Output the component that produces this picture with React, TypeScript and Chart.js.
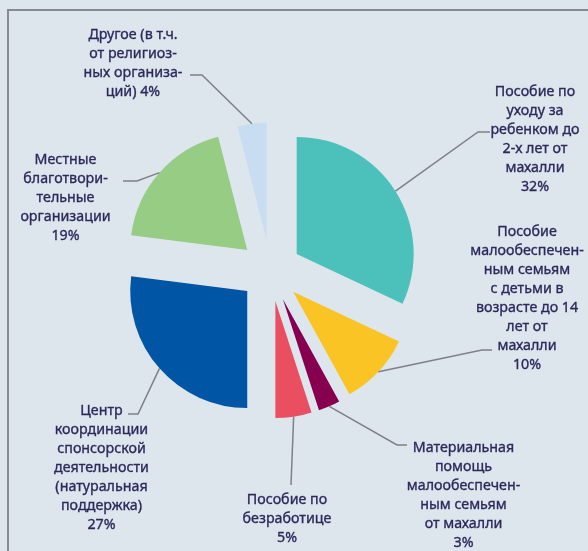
import React, { useEffect, useRef } from 'react';
import { Chart, registerables } from 'chart.js';

Chart.register(...registerables);

// ---- data ----
const categories = [
  'Пособие по уходу за ребенком до 2-х лет от махалли',
  'Пособие малообеспеченным семьям с детьми в возрасте до 14 лет от махалли',
  'Материальная помощь малообеспеченным семьям от махалли',
  'Пособие по безработице',
  'Центр координации спонсорской деятельности (натуральная поддержка)',
  'Местные благотворительные организации',
  'Другое (в т.ч. от религиозных организаций)',
];
const values = [32, 10, 3, 5, 27, 19, 4];
const labelLines = [
  ['Пособие по', 'уходу за', 'ребенком до', '2-х лет от', 'махалли'],
  ['Пособие', 'малообеспечен-', 'ным семьям', 'с детьми в', 'возрасте до 14', 'лет от', 'махалли'],
  ['Материальная', 'помощь', 'малообеспечен-', 'ным семьям', 'от махалли'],
  ['Пособие по', 'безработице'],
  ['Центр', 'координации', 'спонсорской', 'деятельности', '(натуральная', 'поддержка)'],
  ['Местные', 'благотвори-', 'тельные', 'организации'],
  ['Другое (в т.ч.', 'от религиоз-', 'ных организа-', 'ций)'],
];
const pctOnSameLine = [false, false, false, false, false, false, true];

// ---- styles / layout ----
const colors = ['#4cc0bb', '#f9c424', '#86004f', '#e94f61', '#0055a4', '#96cc83', '#c8ddf2'];
const labelLayout = [
  { x: 535, y: 96, elbow: [478, 132], end: [490, 132] },
  { x: 527, y: 236, elbow: [482, 350], end: [492, 350] },
  { x: 463.5, y: 452, elbow: [397, 445], end: [407, 445] },
  { x: 287, y: 504, elbow: null, end: [291, 485] },
  { x: 101.5, y: 415, elbow: [138, 414], end: [128, 414] },
  { x: 65.5, y: 163.5, elbow: [137, 181], end: [123, 181] },
  { x: 133, y: 39, elbow: [202, 75], end: [190, 75] },
];
const GAP = 31;
const LINE_H = 19;
const FONT = '15px "Noto Sans"';
const TEXT_COLOR = '#2b295c';
const BG = '#dee6ed';

const explodePlugin = {
  id: 'explode',
  afterDatasetUpdate(chart: any, args: any) {
    const meta = chart.getDatasetMeta(args.index);
    meta.data.forEach((arc: any) => {
      const mid = (arc.startAngle + arc.endAngle) / 2;
      arc.x += Math.cos(mid) * GAP;
      arc.y += Math.sin(mid) * GAP;
    });
  },
};

const bgPlugin = {
  id: 'bg',
  beforeDraw(chart: any) {
    const ctx = chart.ctx;
    ctx.save();
    ctx.fillStyle = BG;
    ctx.fillRect(0, 0, chart.width, chart.height);
    ctx.fillStyle = '#868b91';
    ctx.fillRect(7, 9, chart.width - 7, 2);
    ctx.fillRect(7, 9, 2, chart.height - 9);
    ctx.restore();
  },
};

const labelPlugin = {
  id: 'labels',
  afterDatasetsDraw(chart: any) {
    const ctx = chart.ctx;
    const meta = chart.getDatasetMeta(0);
    ctx.save();
    meta.data.forEach((arc: any, i: number) => {
      const L = labelLayout[i];
      const mid = (arc.startAngle + arc.endAngle) / 2;
      const px = arc.x + Math.cos(mid) * arc.outerRadius;
      const py = arc.y + Math.sin(mid) * arc.outerRadius;
      ctx.strokeStyle = '#7d8186';
      ctx.lineWidth = 1.5;
      ctx.beginPath();
      ctx.moveTo(px, py);
      if (L.elbow) ctx.lineTo(L.elbow[0], L.elbow[1]);
      ctx.lineTo(L.end[0], L.end[1]);
      ctx.stroke();

      const lines = labelLines[i].slice();
      const pct = values[i] + '%';
      if (pctOnSameLine[i]) lines[lines.length - 1] += ' ' + pct;
      else lines.push(pct);
      ctx.save();
      ctx.translate(L.x, 0);
      ctx.scale(0.95, 1);
      ctx.font = FONT;
      ctx.fillStyle = TEXT_COLOR;
      ctx.strokeStyle = TEXT_COLOR;
      ctx.lineWidth = 0.35;
      ctx.textAlign = 'center';
      ctx.textBaseline = 'alphabetic';
      lines.forEach((t, k) => {
        ctx.fillText(t, 0, L.y + k * LINE_H);
        ctx.strokeText(t, 0, L.y + k * LINE_H);
      });
      ctx.restore();
    });
    ctx.restore();
  },
};

export default function App() {
  const ref = useRef<HTMLCanvasElement>(null);
  useEffect(() => {
    if (!ref.current) return;
    const chart = new Chart(ref.current, {
      type: 'pie',
      data: {
        labels: categories,
        datasets: [
          {
            data: values,
            backgroundColor: colors,
            borderWidth: 0,
            radius: 117,
          } as any,
        ],
      },
      options: {
        responsive: false,
        animation: false,
        layout: { padding: { left: 0, right: 47, top: 0, bottom: 10 } },
        plugins: { legend: { display: false }, tooltip: { enabled: false } },
        events: [],
      },
      plugins: [bgPlugin, explodePlugin, labelPlugin],
    });
    return () => chart.destroy();
  }, []);
  return (
    <div style={{ position: 'fixed', left: 0, top: 0, width: 588, height: 551 }}>
      <canvas ref={ref} width={588} height={551} style={{ width: 588, height: 551, display: 'block' }} />
    </div>
  );
}
